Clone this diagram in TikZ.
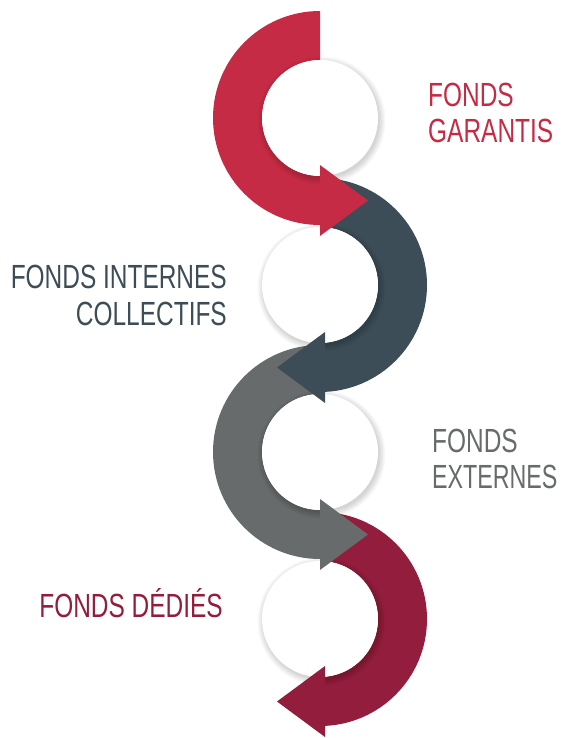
\documentclass[tikz,border=0pt]{standalone}
\usepackage{fontspec}
\setmainfont{Liberation Sans}[FakeStretch=0.73]
\definecolor{cRed}{HTML}{C62B45}
\definecolor{cSlate}{HTML}{3C4D57}
\definecolor{cGray}{HTML}{676B6C}
\definecolor{cMaroon}{HTML}{931D3C}
\begin{document}
\begin{tikzpicture}[x=1pt,y=-1pt,
  lbl/.style={inner sep=0pt,font=\fontsize{33.5}{36}\selectfont},
  hole/.style={fill=white},
  shade/.style={fill=black,opacity=0.025}]
\useasboundingbox (0,0) rectangle (563,738);
\fill[white] (0,0) rectangle (563,738);

% ---- stage 4 (maroon, right half) ----
\fill[cMaroon] (320,512) arc[start angle=-90,end angle=90,radius=107]
  -- (320,677) arc[start angle=90,end angle=-90,radius=58] -- cycle;
\foreach \i in {1,...,7} \fill[shade] (321.5,621.5) circle[radius=57+\i];
\fill[hole] (320,619) circle[radius=58];
\fill[cMaroon] (325,666) -- (325,737) -- (277,701.5) -- cycle;

% ---- stage 3 (gray, left half) ----
\fill[cGray] (320,345) arc[start angle=270,end angle=90,radius=107]
  -- (320,510) arc[start angle=90,end angle=270,radius=58] -- cycle;
\foreach \i in {1,...,7} \fill[shade] (321.5,454.5) circle[radius=57+\i];
\fill[hole] (320,452) circle[radius=58];
\fill[cGray] (320,499) -- (320,570) -- (368,534.5) -- cycle;

% ---- stage 2 (slate, right half) ----
\fill[cSlate] (320,178) arc[start angle=-90,end angle=90,radius=107]
  -- (320,343) arc[start angle=90,end angle=-90,radius=58] -- cycle;
\foreach \i in {1,...,7} \fill[shade] (321.5,287.5) circle[radius=57+\i];
\fill[hole] (320,285) circle[radius=58];
\fill[cSlate] (325,332) -- (325,403) -- (277,367.5) -- cycle;

% ---- stage 1 (red, left half) ----
\fill[cRed] (320,11) arc[start angle=270,end angle=90,radius=107]
  -- (320,176) arc[start angle=90,end angle=270,radius=58] -- cycle;
\foreach \i in {1,...,7} \fill[shade] (321.5,120.5) circle[radius=57+\i];
\fill[hole] (320,118) circle[radius=58];
\fill[cRed] (320,165) -- (320,236) -- (368,200.5) -- cycle;

% ---- labels ----
\node[lbl,text=cRed,anchor=base west] (g1) at (428,107) {FONDS};
\node[lbl,text=cRed,anchor=base west] (g2) at (428,143) {GARANTIS};
\node[lbl,text=cSlate,anchor=base east] (i1) at (227,288) {FONDS INTERNES};
\node[lbl,text=cSlate,anchor=base east] (i2) at (227,325) {COLLECTIFS};
\node[lbl,text=cGray,anchor=base west] (e1) at (432,452) {FONDS};
\node[lbl,text=cGray,anchor=base west] (e2) at (432,488) {\scalebox{0.95}[1]{EXTERNES}};
\node[lbl,text=cMaroon,anchor=base east] (d1) at (223,617) {FONDS DÉDIÉS};
\end{tikzpicture}
\end{document}
